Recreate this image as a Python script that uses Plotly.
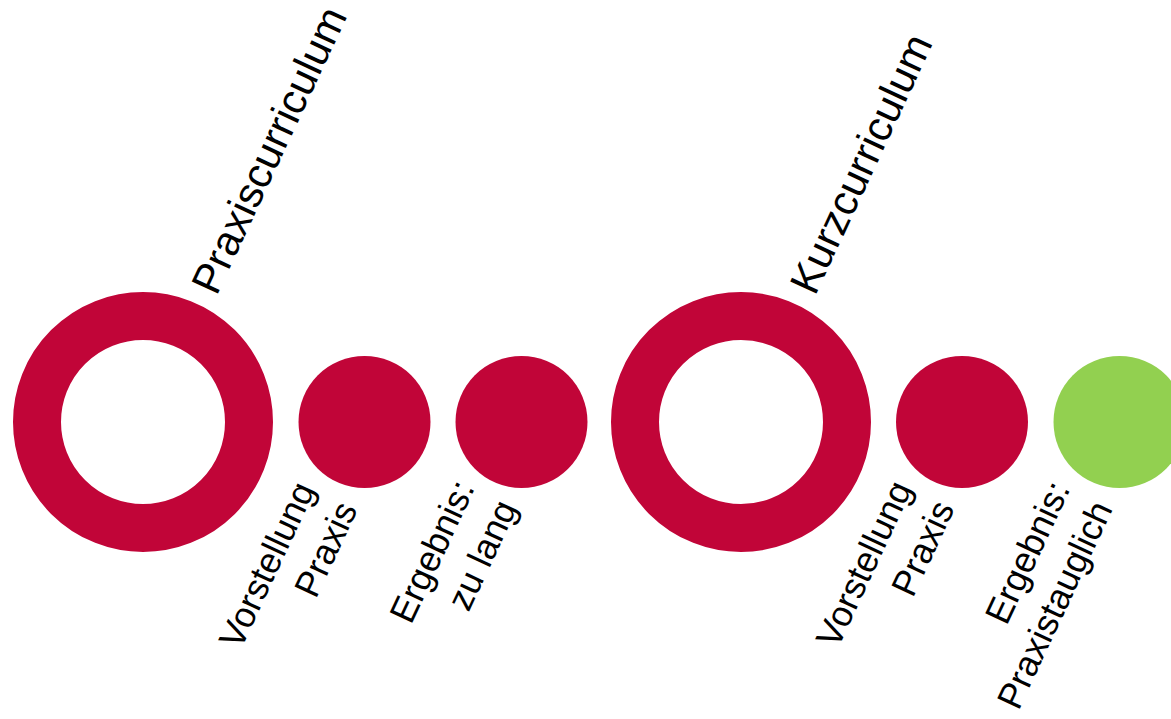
import plotly.graph_objects as go

W, H = 1171, 719

# Stages of the diagram
stage_x = [143, 364.5, 521.5, 741, 962, 1119.5]
stage_y = [422, 422, 422, 422, 422, 422]
stage_kind = ["ring", "dot", "dot", "ring", "dot", "dot"]
stage_color = ["#C10538", "#C10538", "#C10538", "#C10538", "#C10538", "#92D050"]

header_text = ["Praxiscurriculum", "Kurzcurriculum"]
header_stage = [0, 3]

label_text = ["Vorstellung<br>Praxis", "Ergebnis:<br>zu lang",
              "Vorstellung<br>Praxis", "Ergebnis:<br>Praxistauglich"]
label_stage = [1, 2, 4, 5]

fig = go.Figure()

rx = [x for x, k in zip(stage_x, stage_kind) if k == "ring"]
ry = [y for y, k in zip(stage_y, stage_kind) if k == "ring"]
rc = [c for c, k in zip(stage_color, stage_kind) if k == "ring"]
dx = [x for x, k in zip(stage_x, stage_kind) if k == "dot"]
dy = [y for y, k in zip(stage_y, stage_kind) if k == "dot"]
dc = [c for c, k in zip(stage_color, stage_kind) if k == "dot"]

fig.add_trace(go.Scatter(
    x=rx, y=ry, mode="markers", hoverinfo="skip",
    marker=dict(symbol="circle-open", size=212, color=rc,
                line=dict(width=48, color=rc)),
))
fig.add_trace(go.Scatter(
    x=dx, y=dy, mode="markers", hoverinfo="skip",
    marker=dict(symbol="circle", size=132, color=dc, line=dict(width=0)),
))

# headers anchored at their lower-left (start of the text)
header_off = (37, -119)
for t, s in zip(header_text, header_stage):
    fig.add_annotation(x=stage_x[s] + header_off[0], y=stage_y[s] + header_off[1],
                       text=t, showarrow=False, textangle=-65,
                       xanchor="left", yanchor="bottom",
                       font=dict(family="Liberation Sans, Arial", size=42, color="black"))

# labels anchored at their upper-right (end of the text)
label_off = [(3.5, 51), (6.5, 49), (3, 50), (3.5, 50)]
for t, s, o in zip(label_text, label_stage, label_off):
    fig.add_annotation(x=stage_x[s] + o[0], y=stage_y[s] + o[1],
                       text=t, showarrow=False, textangle=-65, align="right",
                       xanchor="right", yanchor="top",
                       font=dict(family="Liberation Sans, Arial", size=36, color="black"))

fig.update_layout(
    width=W, height=H, margin=dict(l=0, r=0, t=0, b=0),
    paper_bgcolor="white", plot_bgcolor="white", showlegend=False,
    xaxis=dict(range=[0, W], visible=False, fixedrange=True),
    yaxis=dict(range=[H, 0], visible=False, fixedrange=True),
)

fig.write_html("out.html", config={"displayModeBar": False},
               post_script="document.body.style.margin='0';document.body.style.overflow='hidden';")
